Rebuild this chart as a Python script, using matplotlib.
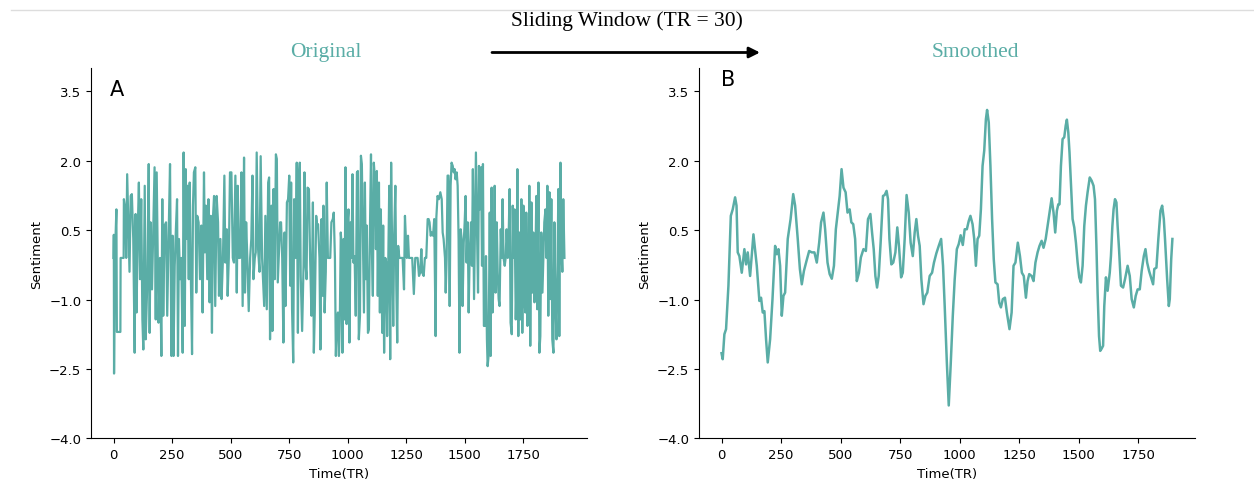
import matplotlib
matplotlib.use("Agg")
import matplotlib.pyplot as plt
from matplotlib.patches import FancyArrowPatch
from matplotlib.lines import Line2D
import numpy as np

# ---------------- data ----------------
orig_tr = [0, 1, 2, 5, 8, 12, 14, 29, 30, 43,
           44, 50, 54, 58, 64, 68, 73, 78, 84, 90, 94, 98, 103, 108, 113, 118, 123, 127, 133, 137,
           144, 150, 154, 158, 164, 170, 175, 180, 184, 188, 192, 198, 204, 208, 212, 218, 224, 229,
           235, 241, 247, 252, 256, 261, 266, 271, 275, 279, 284, 289, 295, 299, 304, 308, 312, 316,
           321, 325, 329, 335, 339, 343, 349, 353, 357, 363, 369, 375, 380, 386, 390, 394, 400, 405,
           410, 415, 420, 424, 429, 434, 440, 446, 450, 456, 461, 467, 473, 477, 483, 487, 492, 497,
           503, 509, 514, 520, 526, 530, 534, 540, 546, 551, 557, 561, 566, 571, 577, 583, 588, 593,
           597, 603, 607, 611, 617, 623, 628, 634,
           643, 648, 654, 660, 664, 668, 674, 678, 683, 688, 693, 697, 701, 705, 711, 715, 720, 725,
           730, 734, 740, 745, 750, 754, 758, 762, 767, 771, 777, 782, 787, 791, 795, 799, 805, 811,
           815, 819, 824, 828, 834, 839, 845, 851, 855, 859, 865, 869, 873, 879, 883, 888, 893, 896,
           901, 906, 910, 915, 919, 925, 930, 936, 940, 945, 949, 953, 958, 962, 966, 970, 973, 977,
           982, 986, 990, 995, 999, 1003, 1007, 1012, 1016, 1020, 1024, 1029, 1034, 1039, 1043, 1047,
           1052, 1056, 1060, 1064, 1069, 1073, 1077, 1081, 1086, 1090, 1094, 1099, 1103, 1107, 1111,
           1116, 1120, 1124, 1128, 1133, 1137, 1141, 1147, 1151, 1155, 1160, 1164, 1168, 1173, 1177,
           1181, 1185, 1190, 1194, 1198, 1203, 1207, 1211, 1215, 1220, 1224, 1228, 1234, 1240, 1244,
           1248, 1252, 1257, 1261, 1267, 1275,
           1282, 1288, 1298, 1304, 1309, 1314, 1318, 1324, 1329, 1335, 1341, 1345, 1349, 1354, 1358,
           1364, 1369, 1375, 1378, 1383, 1389, 1395, 1401, 1405, 1409, 1415, 1418, 1422, 1426, 1430,
           1435, 1439, 1443, 1448, 1452, 1456, 1460, 1465, 1469, 1473, 1477, 1482, 1486, 1490, 1495,
           1499, 1503, 1507, 1512, 1516, 1520, 1526, 1530, 1534, 1539, 1543, 1547, 1552, 1556, 1560,
           1564, 1569, 1573, 1577, 1581, 1586, 1590, 1594, 1597, 1601, 1606, 1610, 1614, 1618, 1623,
           1627, 1631, 1636, 1640, 1644, 1648, 1653, 1657, 1661, 1665, 1670, 1674, 1678, 1683, 1687,
           1691, 1695, 1700, 1704, 1708, 1712, 1717, 1721, 1724, 1728, 1732, 1737, 1741, 1745, 1750,
           1754, 1758, 1762, 1767, 1771, 1775, 1779, 1784, 1788, 1792, 1797, 1801, 1805, 1809, 1814,
           1818, 1822, 1826, 1831, 1835, 1839, 1844, 1848, 1852, 1856, 1861, 1865, 1869, 1873, 1878,
           1882, 1886, 1891, 1895, 1899, 1903, 1908, 1912, 1916, 1920, 1925]
orig_val = [-0.1, 0.4, -2.6, -0.5, 0.3, 0.95, -1.7, -1.7, -0.1, -0.1,
            1.17, 0.95, -0.1, 1.71, 0.45, -0.4, 1.24, 1.28, 0.31, -2.15, 0.85, -1.28, 0.45, 1.53, -0.56, 1.17, -1.43, -2.08, 1.46, -1.86,
            -0.63, 1.93, -1.72, 0.67, -0.78, 0.67, 1.86, -1.43, 1.75, 0.09, -1.5, -0.1, -2.22, 1.17, -1.35, 0.6, 0.67, -1.35,
            0.38, 1.93, -2.22, 0.38, -2.22, -0.27, 0.52, 1.17, -2.22, 0.31, -0.56, -0.1, -2.15, 2.18, -1.57, 1.82, 0.31, 1.46,
            -0.56, 1.53, -0.2, -2.18, 1.03, 1.75, 1.86, -0.85, 0.81, 0.67, -0.56, 0.6, -1.28, 1.75, 0.02, 1.03, -0.56, 1.17,
            -1.06, 0.81, -1.72, 0.74, 1.24, -1.14, 1.24, 0.67, -0.92, 0.31, -0.99, -0.1, 1.68, -0.2, 0.52, -0.92, -0.1, 1.75,
            1.75, -0.1, -0.2, 1.68, -0.85, 1.46, -0.1, -0.1, 1.75, -1.14, 2.07, -0.85, 0.67, -0.1, -1.25, -0.1, 0.31, 1.68,
            -0.56, -0.1, 0.02, 2.18, 0.09, -0.4, 2.1, -0.1,
            -1.14, 0.81, -1.21, 1.53, 1.64, -1.86, 1.03, -1.68, 1.39, -0.56, 2.14, 2.04, -0.63, -0.1, 0.67, 0.67, -0.1, -1.93,
            0.45, -1.14, 1.1, 1.17, 1.68, -0.7, 1.53, -1.21, -2.36, 1.17, -0.1, 1.96, -1.72, 1.6, 1.96, -0.49, -1.68, -0.27,
            1.75, -0.2, -0.56, 1.42, 1.39, -0.1, -1.35, 1.1, -2.15, -1.28, 0.81, 0.6, 0.63, -0.1, -2.08, 0.74, -0.92, 1.03,
            -1.28, -0.4, 1.53, -0.1, -0.1, -0.1, 0.67, 0.74, 0.88, -0.1, -2.22, -1.57, -1.28, -2.22, -1.43, 0.45, 0.23, -2.15,
            0.31, -1.43, 1.86, -1.53, 0.67, 0.95, -1.93, 0.67, -0.1, 1.71, -0.2, -0.06, -1.35, 1.75, 1.78, -1.86,
            -1.35, 2.11, 1.93, 0.45, -1.28, 1.53, -0.56, 0.6, -1.72, -1.65, 0.31, 2.14, 0.02, -0.92, 1.96,
            1.6, 0.09, 1.78, -0.92, 1.53, -1.28, 0.95, -1.72, 0.6, -2.15, -0.1, -0.2, -1.79, -0.1, 1.46,
            -2.29, 1.96, -0.2, -1.57, 0.38, 1.46, -0.7, -1.93, 0.16, -0.1, -0.1, -0.1, -0.1, -0.78, 0.81,
            0.31, -0.1, 0.38, -0.1, -0.1, -0.1,
            -0.88, -0.1, -0.1, -0.49, -0.42, 0.09, -0.42, -0.49, -0.1, -0.1, 0.74, 0.74, 0.67, 0.38, 0.45,
            0.38, 0.74, -1.79, 0.77, 1.24, 1.17, 1.32, 1.17, 0.45, 0.31, -0.1, -0.85, -0.1, 1.68, 1.68,
            -1.14, 1.46, 1.96, 1.89, 1.75, 1.82, 1.6, 1.75, 1.46, 0.31, -2.15, 0.52, 0.31, -1.14, 0.23,
            0.67, 1.24, -0.2, 0.67, -1.28, -0.1, 0.67, -0.27, 1.82, -0.99, 0.52, 2.18, 0.38, -0.85, 1.89,
            0.95, 1.86, -0.27, 1.93, -1.57, -1.57, -0.06, -1.86, -2.44, -2.22, 0.88, -2.22, 1.42, -1.28, -0.42,
            1.46, -0.85, 0.67, -0.42, -0.99, -1.14, 0.52, -0.1, 1.17, -0.1, -0.27, -0.1, 0.52, -0.1, 0.45,
            1.39, -1.5, -1.75, 1.03, -0.1, 0.95, -1.43, -0.56, 1.82, -1.79, 0.45, -1.43, 1.17, -1.72, 1.03,
            -0.99, -1.28, 0.88, -1.57, -0.92, 1.46, -2.0, 1.1, -0.85, 0.45, -1.06, -0.1, 1.24, -1.21, 1.53,
            -2.15, -1.79, 0.45, -0.85, -0.1, 0.67, 0.95, -0.1, 1.46, -1.35, 1.32, -0.99, 1.17, -1.86, -2.15,
            0.67, -0.92, -1.86, -0.42, 1.39, -1.79, 1.96, 0.09, -0.4, 1.17, -0.1]

smooth_tr = [0, 5, 12, 19, 29, 39, 47, 57, 63, 68, 75, 85, 96, 103, 110, 120, 134, 148, 159, 166,
             173, 180, 187, 194, 204, 214, 225, 232, 239, 246, 253, 260, 267, 278, 290, 301, 309, 320,
             329, 337, 346, 357, 368, 379, 390, 400, 410, 418, 428, 435, 445, 454, 463, 472, 480, 489,
             496, 504, 512, 521, 529, 538, 545, 553, 561, 568, 577, 585, 596, 606, 615,
             625, 632, 639, 646, 653, 660, 668, 678, 685, 693, 699, 705, 713, 721, 730, 738, 745, 754,
             761, 769, 777, 786, 794, 803, 811, 818, 825, 832, 839, 848, 856, 864, 874, 884, 892, 902,
             912, 922, 930, 937, 946, 954, 962, 971, 979, 988, 996, 1004, 1013, 1021, 1030, 1038, 1045,
             1054, 1061, 1068, 1075, 1082, 1089, 1096, 1103, 1110, 1115, 1122, 1129, 1136, 1143, 1150,
             1159, 1166, 1173, 1181, 1190, 1198, 1209, 1218, 1226, 1234, 1244, 1253, 1261, 1269, 1278,
             1285, 1292, 1302, 1310, 1318, 1327, 1335, 1344, 1352, 1361, 1369, 1377, 1386, 1394, 1401,
             1408, 1414, 1419, 1425, 1432, 1439, 1445, 1450, 1456, 1461, 1467, 1474, 1481, 1488, 1495,
             1502, 1509, 1516, 1523, 1530, 1537, 1546, 1554, 1562, 1568, 1574, 1579, 1585, 1590, 1596,
             1602, 1607, 1614, 1621, 1630, 1635, 1641, 1646, 1652, 1658, 1663, 1669, 1677, 1686, 1694,
             1705, 1714, 1722, 1731, 1739, 1747, 1756, 1764, 1773, 1780, 1787, 1795, 1803, 1812, 1817,
             1826, 1834, 1843, 1850, 1857, 1862, 1871, 1878, 1882, 1888, 1893]
smooth_val = [-2.16, -2.29, -1.75, -1.64, -0.70, 0.81, 0.95, 1.21, 1.03, 0.02, -0.06, -0.42, 0.09, -0.24, 0.02, -0.49, 0.41, -0.27, -1.03, -0.96,
              -1.28, -1.25, -1.86, -2.36, -1.86, -0.99, 0.16, -0.02, 0.09, -0.27, -1.35, -0.92, -0.85, 0.31, 0.74, 1.28, 1.03, 0.31,
              -0.34, -0.67, -0.38, -0.16, 0.05, 0.02, 0.02, -0.20, 0.23, 0.67, 0.88, 0.52, -0.20, -0.45, -0.55, -0.27, 0.52, 0.92,
              1.24, 1.82, 1.42, 1.32, 0.88, 0.95, 0.67, 0.63, 0.31, -0.60, -0.42, -0.09, 0.09, 0.05, 0.74,
              0.85, 0.45, 0.09, -0.49, -0.74, -0.49, 0.23, 1.24, 1.26, 1.35, 1.17, 0.31, -0.24, -0.20, 0.02, 0.56, 0.16, -0.52,
              -0.42, 0.31, 1.26, 0.88, 0.23, -0.06, 0.45, 0.74, 0.38, 0.16, -0.56, -1.10, -0.92, -0.85, -0.49, -0.42, -0.20, 0.00,
              0.16, 0.31, -0.27, -1.14, -2.36, -3.29, -2.43, -1.35, -0.56, 0.09, 0.20, 0.39, 0.18, 0.52, 0.52, 0.70, 0.81,
              0.63, 0.31, -0.27, 0.31, 0.38, 0.95, 1.89, 2.22, 2.90, 3.10, 2.83, 1.89, 0.74, -0.13, -0.63,
              -0.67, -1.07, -1.17, -0.99, -0.96, -1.28, -1.64, -1.28, -0.27, -0.20, 0.23, -0.06, -0.42, -0.49, -0.96,
              -0.60, -0.45, -0.49, -0.60, -0.20, 0.02, 0.16, 0.27, 0.12, 0.31, 0.59, 0.88, 1.19, 0.88, 0.45,
              0.92, 1.06, 1.06, 1.89, 2.47, 2.51, 2.76, 2.89, 2.61, 2.18, 1.53, 0.74, 0.56, 0.23, -0.20,
              -0.52, -0.63, -0.27, 0.59, 1.03, 1.32, 1.64, 1.57, 1.46, 1.17, 0.16, -0.85, -1.79, -2.11, -2.06,
              -2.00, -1.14, -0.52, -0.81, -0.42, -0.06, 0.59, 0.95, 1.17, 1.10, 0.59, 0.09, -0.70, -0.74, -0.56,
              -0.27, -0.49, -0.99, -1.17, -0.92, -0.78, -0.78, -0.38, -0.06, 0.09, -0.20, -0.38, -0.52, -0.67, -0.34,
              -0.31, 0.31, 0.92, 1.03, 0.74, 0.31, -0.56, -1.14, -0.99, -0.13, 0.31]

yticks = [-4.0, -2.5, -1.0, 0.5, 2.0, 3.5]
xticks = [0, 250, 500, 750, 1000, 1250, 1500, 1750]
main_title = "Sliding Window (TR = 30)"
panel_titles = ["Original", "Smoothed"]
panel_letters = ["A", "B"]

# ---------------- style ----------------
teal = "#5aada6"
serif = ["Liberation Serif", "DejaVu Serif"]

fig = plt.figure(figsize=(12.54, 4.81), dpi=100)
axA = fig.add_axes([0.0726, 0.0867, 0.3955, 0.7692])
axB = fig.add_axes([0.5574, 0.0867, 0.3955, 0.7692])

axA.plot(orig_tr, orig_val, color=teal, lw=1.6)
axB.plot(smooth_tr, smooth_val, color=teal, lw=1.8)

for ax in (axA, axB):
    ax.set_ylim(-4.0, 4.0)
    ax.set_yticks(yticks)
    ax.set_yticklabels([f"{t:.1f}".replace("-", "\u2212") for t in yticks])
    ax.set_xticks(xticks)
    ax.tick_params(labelsize=9.5)
    ax.spines["top"].set_visible(False)
    ax.spines["right"].set_visible(False)
    ax.set_ylabel("Sentiment", fontsize=9.5)
    ax.set_xlabel("Time(TR)", fontsize=9.5, labelpad=4)

# panel letters
fig.text(117 / 1254, 1 - 89.5 / 481, panel_letters[0], fontsize=15, ha="center", va="center")
fig.text(728 / 1254, 1 - 80 / 481, panel_letters[1], fontsize=15, ha="center", va="center")

# titles
fig.text(326 / 1254, 1 - 53 / 481, panel_titles[0], family=serif, fontsize=15.5,
         color=teal, ha="center", va="center")
fig.text(975 / 1254, 1 - 53 / 481, panel_titles[1], family=serif, fontsize=15.5,
         color=teal, ha="center", va="center")
fig.text(0.5, 1 - 21 / 481, main_title, family=serif, fontsize=15.5,
         color="black", ha="center", va="center")

# arrow
arrow = FancyArrowPatch((492 / 1254, 1 - 53.5 / 481), (760 / 1254, 1 - 53.5 / 481),
                        transform=fig.transFigure, arrowstyle="-|>", mutation_scale=16,
                        lw=2.0, color="black", shrinkA=0, shrinkB=0)
fig.add_artist(arrow)

# top separator line
fig.add_artist(Line2D([11 / 1254, 1.0], [1 - 11 / 481, 1 - 11 / 481],
                      transform=fig.transFigure, color="#dddddd", lw=1.0))

fig.savefig("out.png", dpi=100)
